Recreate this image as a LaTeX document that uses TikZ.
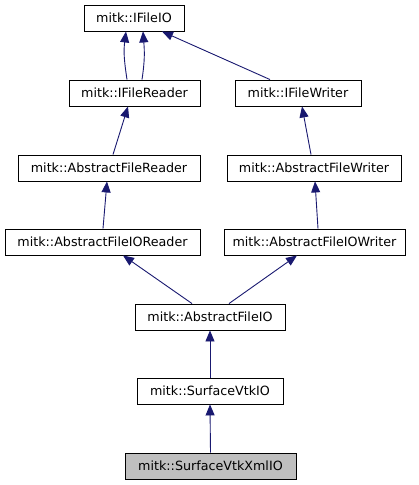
\documentclass[tikz,border=0pt]{standalone}
\usepackage{fontspec}
\setmainfont{DejaVu Sans}
\usetikzlibrary{arrows.meta}
\definecolor{edgeblue}{HTML}{191970}
\definecolor{hlgrey}{HTML}{BFBFBF}
\tikzset{
  cls/.style={draw=black, line width=0.9pt, fill=white, minimum height=26pt, inner sep=0pt,
    font=\fontsize{12.7}{14}\selectfont},
  inh/.style={draw=edgeblue, line width=0.9pt, -{Triangle[length=11pt,width=9pt,fill=edgeblue]}},
}
\begin{document}
\begin{tikzpicture}[x=1pt,y=-1pt]
\useasboundingbox (0,0) rectangle (419,485);
\node[cls, minimum width=100pt] (io) at (134,18) {mitk::IFileIO};
\node[cls, minimum width=131pt] (rd) at (134.5,93) {mitk::IFileReader};
\node[cls, minimum width=126pt] (wr) at (298,93) {mitk::IFileWriter};
\node[cls, minimum width=182pt] (afr) at (109,168) {mitk::AbstractFileReader};
\node[cls, minimum width=174pt] (afw) at (314,168) {mitk::AbstractFileWriter};
\node[cls, minimum width=195pt] (aior) at (102.5,242) {mitk::AbstractFileIOReader};
\node[cls, minimum width=181pt] (aiow) at (314.5,242) {mitk::AbstractFileIOWriter};
\node[cls, minimum width=150pt] (aio) at (210,317) {mitk::AbstractFileIO};
\node[cls, minimum width=146pt] (svio) at (210,391) {mitk::SurfaceVtkIO};
\node[cls, minimum width=171pt, fill=hlgrey] (sxio) at (210.5,466) {mitk::SurfaceVtkXmlIO};

\draw[inh] ([xshift=-7.5pt]rd.north) .. controls ([xshift=-10.5pt,yshift=20pt]rd.north) and ([xshift=-10.5pt,yshift=-20pt]io.south) .. ([xshift=-8pt]io.south);
\draw[inh] ([xshift=7.5pt]rd.north) .. controls ([xshift=10.5pt,yshift=20pt]rd.north) and ([xshift=10.5pt,yshift=-20pt]io.south) .. ([xshift=9pt]io.south);
\draw[inh] ([xshift=-28pt]wr.north) -- ([xshift=28pt]io.south);
\draw[inh] ([xshift=4pt]afr.north) -- ([xshift=-6.5pt]rd.south);
\draw[inh] ([xshift=-3pt]afw.north) -- ([xshift=4pt]wr.south);
\draw[inh] ([xshift=0.5pt]aior.north) -- ([xshift=-2pt]afr.south);
\draw[inh] ([xshift=3.5pt]aiow.north) -- ([xshift=1pt]afw.south);
\draw[inh] ([xshift=-18pt]aio.north) -- ([xshift=20.5pt]aior.south);
\draw[inh] ([xshift=19pt]aio.north) -- ([xshift=-17.5pt]aiow.south);
\draw[inh] (svio) -- (aio);
\draw[inh] (sxio.north) -- (svio.south);
\end{tikzpicture}
\end{document}
